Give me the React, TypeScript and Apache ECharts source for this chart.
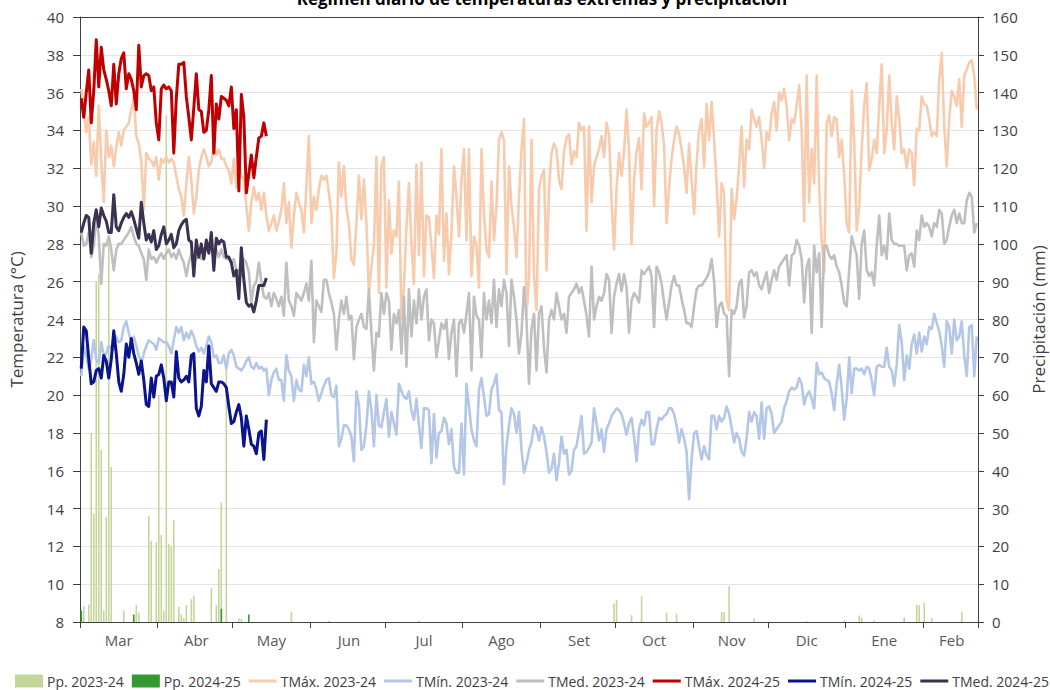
import React, { useEffect, useRef } from "react";
import * as echarts from "echarts";

// ---- categories: daily, Mar 1 2023 .. Feb 22 2024 ----
const monthNames = ["Mar", "Abr", "May", "Jun", "Jul", "Ago", "Set", "Oct", "Nov", "Dic", "Ene", "Feb"];
const monthDays = [31, 30, 31, 30, 31, 31, 30, 31, 30, 31, 31, 22];

// ---- left axis ticks / right axis ticks ----
const tempTicks = { min: 8, max: 40, interval: 2 };
const ppTicks = { min: 0, max: 160, interval: 10 };

// ---- daily maximum temperature 2023-24 ----
const tmax2324 = [
  36.2, 35.3, 33.9, 34.7, 32.2, 33.4, 31.6, 35.3, 32.3, 30.2,
  34.0, 32.6, 33.2, 32.1, 33.1, 33.9, 33.2, 34.0, 34.2,
  34.4, 35.1, 35.8, 33.7, 33.3, 32.4, 29.8, 32.8, 32.5, 32.4,
  32.1, 32.6, 31.4, 32.5, 32.3, 32.6, 32.3, 32.5, 32.3, 31.6,
  30.9, 30.5, 29.5, 31.2, 32.6, 31.4, 29.6, 30.5, 31.9,
  32.6, 33.0, 32.6, 32.1, 32.3, 33.2, 32.7, 33.0, 32.5, 32.5,
  32.1, 31.9, 31.2, 32.5, 31.0, 32.5, 31.6, 31.4, 30.0, 28.7,
  30.2, 31.0, 30.3, 30.7, 29.8, 30.7, 29.5, 28.7, 29.1, 29.5,
  28.7, 29.2, 29.8, 31.2, 29.1, 30.2, 27.8, 29.5, 30.7, 30.2,
  29.8, 28.6, 31.0, 33.7, 29.1, 30.5, 29.8, 30.9, 31.6, 31.4,
  31.6, 30.7, 29.6, 26.2, 27.5, 32.3, 30.5, 32.1, 29.9,
  29.1, 27.2, 26.9, 29.1, 31.6, 29.3, 31.4, 29.1, 25.4, 26.8,
  27.9, 32.6, 25.4, 32.1, 32.6, 25.7, 30.3, 27.5, 28.7, 28.4,
  31.3, 24.0, 25.7, 28.9, 31.2, 28.0, 25.9, 32.2, 27.4, 32.3,
  26.3, 29.5, 29.4, 27.9, 26.2, 29.5, 28.5, 33.0, 27.1, 29.6,
  26.4, 28.6, 32.1, 30.5, 28.4, 31.4, 33.0, 28.2, 33.0, 26.3,
  28.4, 27.9, 25.7, 33.0, 29.6, 27.7, 27.3, 31.3, 28.2, 30.0,
  33.5, 33.9, 33.5, 26.4, 32.1, 30.0, 28.9, 27.3, 30.5, 33.0,
  34.6, 24.3, 26.1, 33.5, 26.3, 24.5, 30.9, 31.6, 31.9, 26.6,
  30.9, 32.8, 33.3, 33.0, 31.4, 30.9, 32.9, 33.6, 33.8,
  32.2, 32.9, 32.6, 34.4, 34.0, 34.2, 28.7, 34.2, 30.2, 32.1,
  32.6, 33.0, 33.7, 32.6, 34.4, 33.8, 30.3, 27.7, 30.9, 32.8,
  31.6, 32.9, 35.1, 32.9, 28.0, 31.4, 32.9, 33.6, 30.9, 34.9,
  34.2,
  34.4, 34.7, 30.0, 34.0, 35.0, 34.4, 33.2, 29.1, 31.0,
  32.5, 33.5, 34.2, 33.8, 33.0, 32.1, 30.7, 33.3, 31.4, 29.6,
  32.3, 34.0, 34.6, 32.1, 35.4, 33.5, 35.5, 33.5, 31.2,
  28.4, 31.2, 30.7, 25.0, 24.5, 30.9, 29.3, 30.4, 32.1, 34.2,
  31.0, 33.5, 33.0, 35.1, 34.6, 34.2, 34.7, 33.5,
  32.0, 33.9, 33.5, 34.9, 35.5, 34.0, 36.0, 35.6, 36.2,
  35.3, 33.5, 34.6, 34.4, 35.3, 36.4, 34.0, 29.2, 36.9, 30.2,
  33.0, 31.2, 36.9, 30.9, 28.2, 26.5, 34.4, 34.8, 33.7,
  34.7, 34.6, 32.6, 33.5, 31.7, 29.1, 28.6, 36.1, 33.5, 28.7,
  30.0, 33.0, 35.3, 36.5, 31.9, 32.5, 33.5, 32.8, 35.3, 37.5,
  32.8, 34.0, 36.9, 34.4, 33.0, 35.8, 34.6, 32.8, 33.0,
  32.0, 33.0, 32.8, 31.1, 34.1, 34.0, 35.8, 35.4, 35.3,
  34.6, 33.7, 33.9, 33.7, 36.7, 38.1, 34.2, 32.1, 34.6,
  36.1, 35.8, 35.3, 36.7, 34.2, 36.9, 37.2, 37.6, 37.7, 36.9, 35.1,
];

// ---- daily minimum temperature 2023-24 ----
const tmin2324 = [
  21.0, 22.6, 22.1, 21.4, 21.9, 22.9, 21.9, 21.7, 22.8, 22.1,
  22.2, 22.6, 22.5, 22.4, 23.1, 22.8, 22.9, 23.6, 23.9, 23.3,
  22.8, 23.1, 22.6, 22.1, 21.7, 22.2, 22.6, 22.9, 22.8, 22.7,
  22.4, 23.0, 22.9, 22.8, 22.8, 22.6, 22.2, 22.9, 23.6, 23.3,
  23.6, 22.9, 23.3, 23.0, 23.4, 23.1, 22.6, 22.3, 22.5, 22.2,
  22.6, 23.1, 22.8, 22.0, 22.1, 21.7, 21.7, 22.1, 21.4, 22.2,
  22.4, 22.1, 21.5, 21.4, 21.3, 21.5, 21.8, 22.0, 21.5,
  21.4, 21.7, 21.4, 21.5, 21.3, 21.4, 20.0, 20.8, 21.2, 21.4,
  20.8,
  20.8, 19.7, 22.1, 21.3, 21.0, 19.7, 20.8, 20.3, 20.2,
  21.6, 21.0, 22.0, 20.6, 20.7, 20.3, 19.7, 20.1, 20.5, 20.8,
  20.9, 20.0, 19.9, 20.5, 17.3, 17.7, 18.4, 18.4, 18.2, 17.8,
  16.5, 20.2, 19.5, 17.1, 17.3, 18.4, 20.2, 19.2, 17.3, 20.0,
  18.4, 18.3, 19.1, 19.8, 17.8, 19.1, 18.5, 17.9, 20.6, 20.2,
  19.9, 19.8, 20.2, 19.2, 18.7, 19.8, 18.4, 17.2, 19.3,
  19.3, 19.2, 16.4, 19.0, 16.7, 18.0, 18.1, 18.8, 18.5, 17.4,
  18.2, 16.2, 15.9, 15.9, 18.5, 15.8, 20.6, 19.4, 18.2, 17.6,
  17.3, 20.3, 20.9, 19.9, 18.9, 19.0, 20.3, 20.6, 21.1, 19.2,
  19.1, 15.3, 17.3, 18.4, 19.3, 19.0, 18.0, 19.1, 17.1, 15.9,
  16.4, 17.1, 17.5, 18.4, 18.2, 17.6, 18.3, 17.8, 17.0, 15.9,
  16.1, 16.9, 15.5, 16.4, 17.8, 16.9, 17.1, 15.8, 16.0, 17.1,
  17.3, 18.1, 18.9, 16.9, 17.0, 17.2, 17.5, 19.3, 18.5, 17.6,
  18.2, 17.0, 18.2, 18.5, 18.9, 19.1, 19.3, 19.2, 19.0,
  18.5, 17.9, 18.5, 18.8, 17.8, 16.5, 18.2, 18.7, 18.4, 19.1,
  19.1, 17.4, 17.4, 18.2, 18.8, 18.7, 18.9, 19.0, 19.3,
  19.3, 19.0, 18.4, 17.5, 18.2, 17.7, 17.0, 14.5, 16.6, 18.0,
  18.1, 17.3, 16.6, 17.3, 16.8, 16.6, 18.9, 18.9, 18.2, 18.9,
  18.6, 18.8, 19.4, 19.0, 18.3, 17.5, 18.0, 17.7, 17.0,
  16.8, 17.7, 19.1, 18.6, 19.1, 18.9, 17.7, 19.6, 17.7, 19.3,
  19.4, 19.0, 18.0, 18.2, 18.4, 18.6, 19.3, 19.7, 20.2,
  20.4, 20.3, 20.4, 20.9, 20.6, 19.5, 20.0, 20.2, 19.8, 19.3,
  21.7, 21.1, 21.2, 20.9, 20.8, 20.7, 20.1, 19.2, 20.6, 21.6,
  20.4, 18.7, 19.8, 22.0, 20.1, 21.4, 21.4, 21.3, 21.4, 21.1,
  21.5, 21.4, 20.8, 20.0, 21.5, 21.6, 21.5, 21.5, 22.5,
  21.5, 21.3, 20.5, 21.6, 23.7, 22.8, 20.8, 22.1, 21.4,
  22.7, 23.2, 22.2, 23.3, 22.3, 23.1, 22.7, 23.6, 23.5, 24.3,
  23.8, 23.4, 22.6, 21.5, 23.9, 23.6, 22.2, 24.0, 22.9,
  23.1, 23.9, 22.1, 21.0, 23.6, 23.7, 21.0, 23.1,
];

// ---- daily mean temperature 2023-24 ----
const tmed2324 = [
  28.6, 27.9, 28.0, 28.6, 27.3, 27.9, 29.4, 28.4, 25.9, 28.0,
  27.9, 28.4, 27.7, 26.6, 27.7, 28.0, 28.0, 28.2, 28.4, 28.6,
  28.9, 28.4, 28.0, 27.9, 27.5, 27.2, 26.1, 27.7, 27.2, 27.3,
  27.0, 27.3, 27.5, 27.2, 27.5, 27.7, 27.3, 27.5, 27.2, 27.7,
  27.3, 27.0, 26.3, 27.0, 27.5, 27.2, 27.2, 27.3, 27.2,
  27.5, 27.7, 27.9, 27.7, 27.3, 27.7, 27.3, 27.7, 27.3, 27.2,
  27.2, 27.0, 27.2, 26.6, 26.6, 26.3, 27.2, 27.0, 26.5, 24.9,
  25.8, 26.0, 27.0, 26.0, 25.2, 25.1, 25.4, 24.7, 25.4, 25.1,
  24.7,
  25.2, 24.2, 27.0, 25.0, 24.7, 24.2, 25.4, 25.2, 25.0,
  25.4, 25.9, 25.0, 27.1, 22.8, 25.0, 24.7, 24.4, 26.1, 26.1,
  25.4, 24.9, 24.3, 22.4, 24.0, 25.0, 24.3, 25.2, 24.0, 24.2,
  21.9, 23.6, 24.0, 24.3, 23.6, 23.5, 25.6, 23.3, 21.3, 23.3,
  23.1, 25.4, 24.3, 25.4, 25.0, 22.4, 24.3, 23.8, 24.5, 22.2,
  25.2, 21.5, 25.6, 23.1, 25.0, 23.8, 25.6, 24.0, 25.2, 25.6,
  22.9, 24.0, 23.8, 22.0, 22.9, 23.8, 23.5, 24.0, 21.9, 23.3,
  24.0, 21.0, 23.8, 24.0, 23.3, 24.3, 25.4, 21.3, 25.2, 24.2,
  24.0, 22.0, 25.4, 24.0, 25.0, 23.8, 26.1, 23.6, 25.6, 24.7,
  26.1, 25.4, 22.6, 26.1, 25.2, 24.0, 22.2, 23.3, 25.7, 24.0,
  20.6, 23.5, 24.3, 21.3, 24.3, 24.7, 22.5, 21.2, 24.0, 24.5,
  24.0, 25.4, 24.7, 24.0, 24.3, 23.3, 25.2, 25.4, 25.6, 25.9,
  25.4, 25.7, 25.0, 24.2, 23.1, 26.8, 24.0, 24.7, 25.2, 25.0,
  25.4, 26.4, 26.1, 23.3, 25.2, 25.9, 26.4, 25.5, 26.4, 25.7,
  23.3, 25.0, 25.4, 25.2, 24.9, 26.6, 26.4, 26.6,
  26.8, 26.3, 23.6, 26.8, 26.5, 25.9, 24.9, 24.0, 24.9,
  25.8, 26.3, 25.8, 25.8, 25.1, 24.5, 23.8, 23.8, 23.6, 24.7,
  25.6, 25.8, 25.8, 26.0, 26.2, 26.5, 27.2, 26.0, 23.6,
  24.7, 24.9, 24.3, 24.2, 21.0, 24.5, 24.3, 24.7, 25.9, 26.1,
  24.1, 24.7, 26.5, 26.6, 26.3, 26.5, 25.8, 25.6,
  26.1, 26.5, 25.4, 26.1, 26.6, 26.1, 26.8, 27.0, 27.2,
  27.4, 25.8, 27.4, 27.5, 28.2, 27.9, 27.2, 24.9, 26.8, 27.2,
  23.3, 27.9, 26.5, 27.5, 23.6, 27.9, 27.9, 27.4, 27.2,
  27.4, 26.8, 26.5, 25.8, 24.9, 24.7, 26.6, 28.4, 27.9, 27.4,
  25.1, 28.0, 28.7, 26.6, 26.3, 26.5, 25.8, 27.9, 29.5, 27.4,
  27.9, 27.2, 29.6, 28.2, 28.0, 28.0, 27.9, 27.9, 27.9,
  26.6, 27.4, 27.5, 26.8, 28.7, 28.2, 29.5, 28.9, 29.1,
  28.9, 28.4, 29.1, 28.9, 29.8, 29.6, 28.0, 28.2, 28.9,
  29.5, 29.8, 29.1, 29.6, 29.1, 29.1, 30.3, 30.7, 30.5, 28.6, 29.1,
];

// ---- 2024-25 (Mar 1 .. May 15) ----
const tmax2425 = [
  35.7, 34.7, 36.0, 37.2, 34.4, 36.1, 38.8, 36.3, 38.4, 37.2,
  36.7, 36.1, 35.3, 37.5, 35.4, 37.0, 37.8, 38.1, 36.2, 37.0,
  36.7, 36.1, 35.1, 38.5, 36.3, 36.9, 37.0, 36.9, 36.1, 36.3,
  34.4, 33.5, 36.2, 36.4, 36.2, 36.3, 36.1, 32.8, 35.7, 37.5,
  37.5, 37.6, 35.8, 34.7, 33.5, 35.2, 37.0, 35.1, 35.0, 33.9,
  34.0, 35.1, 36.9, 32.8, 35.4, 34.6, 35.8, 35.7, 35.6, 35.3,
  36.3, 34.1, 35.1, 30.8, 35.9, 34.7, 30.7, 31.7, 32.7, 31.5,
  32.6, 33.6, 33.7, 34.4, 33.7,
];
const tmin2425 = [
  21.4, 23.6, 23.4, 21.9, 20.6, 20.7, 21.3, 21.4, 20.9, 22.1,
  21.8, 20.9, 21.9, 23.4, 22.2, 20.7, 20.2, 21.1, 22.7, 22.0,
  23.0, 22.2, 21.7, 21.1, 21.8, 20.8, 19.5, 19.4, 20.9, 19.9,
  21.0, 21.1, 21.6, 20.9, 19.7, 20.7, 20.7, 19.9, 22.3, 20.9,
  20.7, 20.8, 21.0, 20.7, 22.1, 22.2, 19.3, 18.9, 19.4, 21.3,
  20.7, 22.6, 20.6, 20.4, 20.2, 20.7, 20.7, 20.6, 20.4, 19.4,
  18.5, 18.6, 19.1, 19.5, 18.8, 17.3, 18.9, 18.2, 17.4, 17.3,
  16.9, 18.0, 18.1, 16.6, 18.7,
];
const tmed2425 = [
  28.6, 29.1, 29.5, 29.4, 27.5, 29.1, 29.8, 28.9, 29.9, 29.5,
  29.2, 28.6, 28.6, 30.6, 28.9, 28.7, 29.1, 29.4, 29.6, 29.4,
  29.7, 29.3, 28.8, 28.3, 30.2, 29.1, 28.2, 28.5, 28.1, 28.7,
  27.7, 27.9, 28.5, 28.9, 28.0, 28.2, 28.5, 27.8, 28.0, 28.7,
  29.0, 29.2, 29.3, 28.2, 28.1, 26.3, 28.2, 27.3, 28.0, 27.2,
  28.2, 27.5, 28.6, 26.6, 28.3, 28.0, 28.2, 28.1, 27.3, 27.3,
  27.0, 26.3, 26.6, 25.1, 27.8, 26.1, 24.9, 24.7, 24.8, 24.4,
  25.0, 25.8, 25.8, 25.8, 26.2,
];

// ---- daily precipitation (day index, mm) ----
const pp2324 = [
  [1, 4.2], [3, 4.6], [4, 50], [5, 28.6], [6, 90], [7, 92], [8, 45.5], [9, 3], [10, 27.8], [11, 100], [12, 41],
  [17, 3], [22, 4.5], [23, 2.5], [27, 28], [28, 21.4], [30, 21], [31, 60], [32, 23], [33, 3], [34, 134],
  [35, 20.6], [36, 20], [37, 27], [39, 4], [40, 2], [41, 1], [42, 4.5], [44, 6], [45, 7],
  [52, 9], [54, 4.5], [55, 14], [56, 31.6], [58, 68], [63, 1], [64, 0.8], [84, 2.7], [99, 0.3], [135, 0.3],
  [213, 4.9], [214, 5.8], [220, 1.8], [224, 6.8], [234, 2.5], [238, 2.2], [256, 2.6], [257, 2.6], [259, 9.5],
  [269, 0.9], [290, 0.2], [305, 0.3], [311, 1.7], [312, 1.2], [317, 0.4], [329, 1.3], [334, 4.6], [335, 4.4],
  [337, 5], [340, 1.1], [352, 2.6],
];
const pp2425 = [[0, 3], [21, 2], [56, 3.5], [67, 2]];

const FONT = '"Open Sans", "Liberation Sans", sans-serif';
const TXT = "#404040";
const LINE_ICON = "path://M0,0 L28,0 L28,3 L0,3 Z";

export default function App() {
  const ref = useRef<HTMLDivElement>(null);

  useEffect(() => {
    if (!ref.current) return;
    const chart = echarts.init(ref.current, null, { renderer: "svg" });

    const categories: string[] = [];
    const monthStart: number[] = [];
    const monthMid: Record<number, string> = {};
    monthNames.forEach((m, k) => {
      const start = categories.length;
      monthStart.push(start);
      monthMid[start + Math.floor(monthDays[k] / 2)] = m;
      for (let d = 1; d <= monthDays[k]; d++) categories.push(d + " " + m);
    });

    const lineSeries = (name: string, data: number[], color: string, width: number, z: number) => ({
      name,
      type: "line",
      data,
      xAxisIndex: 0,
      yAxisIndex: 0,
      symbol: "none",
      showSymbol: false,
      lineStyle: { color, width, join: "round" },
      itemStyle: { color },
      z,
    });

    chart.setOption({
      animation: false,
      textStyle: { fontFamily: FONT },
      grid: {
        left: 80,
        right: 72,
        top: 17,
        bottom: 68,
        containLabel: false,
        outerBoundsMode: "none",
      },
      graphic: [
        {
          type: "text",
          x: 542,
          y: 7,
          style: {
            text: "Régimen diario de temperaturas extremas y precipitación",
            font: 'bold 17px "Open Sans", sans-serif',
            fill: "#000",
            textAlign: "center",
            textVerticalAlign: "bottom",
          },
        },
      ],
      legend: {
        top: 674,
        left: 15,
        right: 0,
        padding: 0,
        itemGap: 8,
        itemWidth: 28,
        itemHeight: 13,
        textStyle: { fontSize: 14, color: TXT, fontFamily: FONT, padding: [0, 0, 0, -1] },
        data: [
          { name: "Pp. 2023-24", icon: "rect" },
          { name: "Pp. 2024-25", icon: "rect" },
          { name: "TMáx. 2023-24", icon: LINE_ICON },
          { name: "TMín. 2023-24", icon: LINE_ICON },
          { name: "TMed. 2023-24", icon: LINE_ICON },
          { name: "TMáx. 2024-25", icon: LINE_ICON },
          { name: "TMín. 2024-25", icon: LINE_ICON },
          { name: "TMed. 2024-25", icon: LINE_ICON },
        ],
      },
      xAxis: [
        {
          type: "category",
          data: categories,
          boundaryGap: true,
          axisLine: { show: true, lineStyle: { color: "#404040", width: 1 } },
          axisTick: {
            show: true,
            length: 6,
            lineStyle: { color: "#404040" },
            interval: (i: number) => monthStart.indexOf(i) >= 0,
          },
          axisLabel: {
            interval: (i: number) => monthMid[i] !== undefined,
            formatter: (_v: string, i: number) => monthMid[i] || "",
            fontSize: 15,
            color: "#595959",
            margin: 10,
            fontFamily: FONT,
          },
          splitLine: { show: false },
        },
        {
          type: "category",
          data: categories,
          position: "top",
          boundaryGap: true,
          axisLine: { show: true, lineStyle: { color: "#404040", width: 1 } },
          axisTick: { show: false },
          axisLabel: { show: false },
          splitLine: { show: false },
        },
      ],
      yAxis: [
        {
          type: "value",
          min: tempTicks.min,
          max: tempTicks.max,
          interval: tempTicks.interval,
          name: "Temperatura (°C)",
          nameLocation: "middle",
          nameGap: 55,
          nameTextStyle: { fontSize: 17, color: TXT, fontFamily: FONT },
          axisLine: { show: true, lineStyle: { color: "#404040" } },
          axisTick: { show: true, length: 7, lineStyle: { color: "#404040" } },
          axisLabel: { fontSize: 15, color: TXT, margin: 16, fontFamily: FONT },
          splitLine: { show: true, lineStyle: { color: "#e3e3e3", width: 1 } },
        },
        {
          type: "value",
          min: ppTicks.min,
          max: ppTicks.max,
          interval: ppTicks.interval,
          position: "right",
          name: "Precipitación (mm)",
          nameLocation: "middle",
          nameGap: 52,
          nameRotate: 90,
          nameTextStyle: { fontSize: 17, color: TXT, fontFamily: FONT },
          axisLine: { show: true, lineStyle: { color: "#404040" } },
          axisTick: { show: true, length: 6, lineStyle: { color: "#404040" } },
          axisLabel: { fontSize: 15, color: TXT, margin: 14, fontFamily: FONT },
          splitLine: { show: false },
        },
      ],
      series: [
        {
          name: "Pp. 2023-24",
          type: "bar",
          xAxisIndex: 0,
          yAxisIndex: 1,
          data: pp2324.map(([d, v]) => [d, v]),
          barWidth: 1.6,
          barGap: "-100%",
          itemStyle: { color: "#c4d79b" },
          z: 1,
        },
        {
          name: "Pp. 2024-25",
          type: "bar",
          xAxisIndex: 0,
          yAxisIndex: 1,
          data: pp2425.map(([d, v]) => [d, v]),
          barWidth: 1.6,
          barGap: "-100%",
          itemStyle: { color: "#339933" },
          z: 2,
        },
        lineSeries("TMáx. 2023-24", tmax2324, "#f8cbad", 2.6, 3),
        lineSeries("TMín. 2023-24", tmin2324, "#b4c7e7", 2.6, 3),
        lineSeries("TMed. 2023-24", tmed2324, "#bfbfbf", 2.6, 3),
        lineSeries("TMáx. 2024-25", tmax2425, "#c00000", 3, 4),
        lineSeries("TMín. 2024-25", tmin2425, "#0a148f", 3, 4),
        lineSeries("TMed. 2024-25", tmed2425, "#3b3150", 3, 4),
      ],
    });

    return () => chart.dispose();
  }, []);

  return (
    <div
      ref={ref}
      style={{ position: "fixed", left: 0, top: 0, width: 1050, height: 690, background: "#fff" }}
    />
  );
}
